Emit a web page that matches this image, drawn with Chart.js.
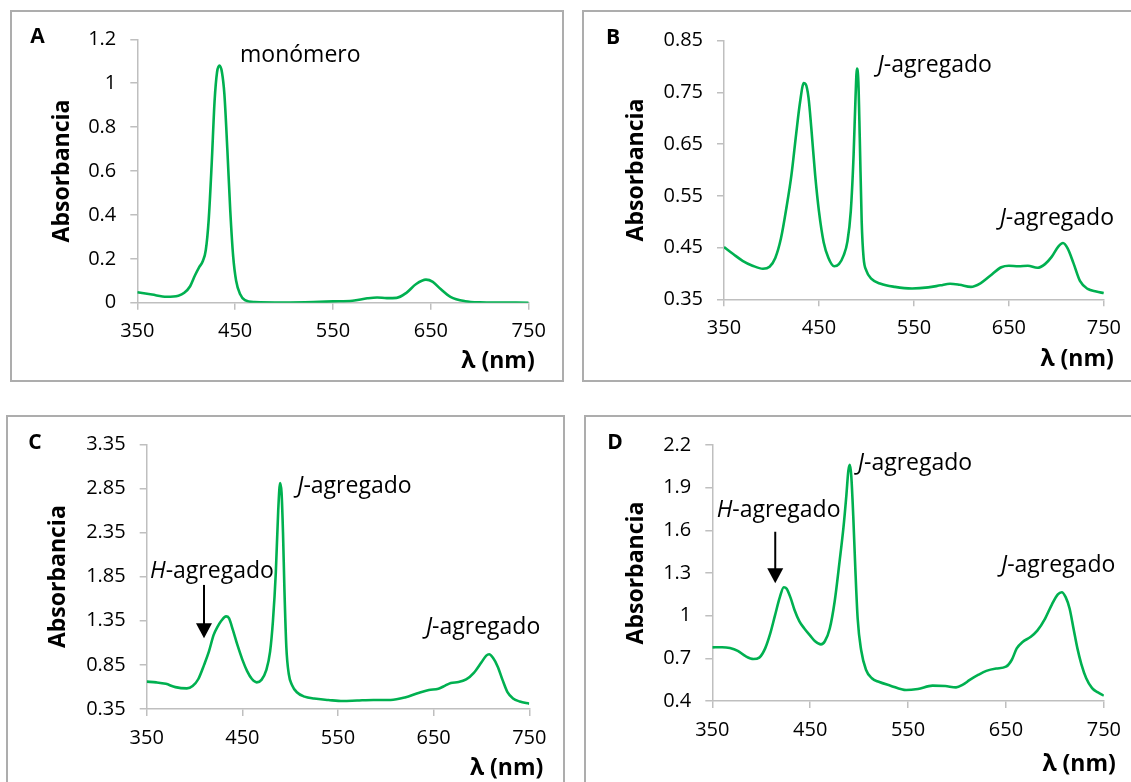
<!DOCTYPE html>
<html>
<head>
<meta charset="utf-8">
<script src="https://cdn.jsdelivr.net/npm/chart.js@4/dist/chart.umd.min.js"></script>
<style>
  body { margin: 0; width: 1131px; height: 782px; overflow: hidden; background: #fff; position: relative; }
  .frame { position: absolute; border: 2px solid #adadad; box-sizing: border-box; }
  canvas { position: absolute; }
</style>
</head>
<body>
<div class="frame" style="left:10px;top:10px;width:554px;height:372px"></div>
<div class="frame" style="left:582px;top:10px;width:600px;height:372px"></div>
<div class="frame" style="left:6px;top:415px;width:559px;height:400px"></div>
<div class="frame" style="left:584px;top:415px;width:600px;height:400px"></div>
<canvas id="cA" width="548" height="366" style="left:13px;top:13px"></canvas>
<canvas id="cB" width="546" height="366" style="left:585px;top:13px"></canvas>
<canvas id="cC" width="553" height="364" style="left:9px;top:418px"></canvas>
<canvas id="cD" width="544" height="364" style="left:587px;top:418px"></canvas>
<script>
// wavelength ticks shared by all panels
const xTicks = [350, 450, 550, 650, 750];

// A - monómero
const nmA  = [350, 365, 380, 392, 398, 404, 409, 413, 417, 420, 423, 426, 429, 431.5, 434, 436.5, 439, 442, 445, 448, 451, 455, 460, 470, 500, 530, 550, 570, 585, 595, 605, 615, 625, 635, 645, 652, 660, 670, 685, 700, 750];
const absA = [0.048, 0.037, 0.027, 0.032, 0.045, 0.075, 0.125, 0.16, 0.19, 0.24, 0.38, 0.63, 0.92, 1.05, 1.08, 1.05, 0.95, 0.70, 0.42, 0.21, 0.10, 0.04, 0.012, 0.003, 0.001, 0.003, 0.006, 0.009, 0.02, 0.024, 0.021, 0.022, 0.045, 0.085, 0.105, 0.095, 0.062, 0.027, 0.007, 0.002, 0.0];
const yTicksA = [0, 0.2, 0.4, 0.6, 0.8, 1, 1.2];

// B
const nmB  = [350, 360, 370, 380, 391, 398, 404, 410, 416, 421, 426, 430, 434, 436, 439, 442, 446, 450, 455, 460, 466, 471, 476, 480, 483.5, 486.5, 488.5, 490, 491.5, 493, 495, 497, 500, 505, 515, 530, 548, 565, 578, 588, 598, 610, 620, 630, 642, 650, 660, 670, 680, 688, 695, 702, 707, 712, 718, 725, 733, 742, 750];
const absB = [0.451, 0.437, 0.424, 0.415, 0.409, 0.413, 0.43, 0.468, 0.53, 0.59, 0.67, 0.73, 0.768, 0.766, 0.74, 0.68, 0.59, 0.52, 0.46, 0.43, 0.414, 0.418, 0.435, 0.462, 0.52, 0.63, 0.74, 0.796, 0.77, 0.66, 0.50, 0.43, 0.405, 0.39, 0.38, 0.374, 0.371, 0.373, 0.377, 0.380, 0.378, 0.374, 0.381, 0.395, 0.412, 0.415, 0.414, 0.415, 0.411, 0.418, 0.432, 0.452, 0.459, 0.448, 0.42, 0.385, 0.370, 0.365, 0.362];
const yTicksB = [0.35, 0.45, 0.55, 0.65, 0.75, 0.85];

// C
const nmC  = [350, 360, 370, 380, 392, 398, 404, 410, 415, 420, 424, 428, 433, 436, 440, 445, 450, 455, 460, 465, 470, 475, 479, 482, 485, 487.5, 489.5, 491, 492.5, 494, 496, 498.5, 502, 507, 515, 525, 540, 555, 570, 587, 605, 620, 635, 645, 655, 662, 668, 676, 684, 692, 700, 705, 708, 712, 717, 722, 727, 733, 740, 750];
const absC = [0.66, 0.652, 0.635, 0.598, 0.584, 0.61, 0.69, 0.85, 1.0, 1.19, 1.28, 1.35, 1.40, 1.38, 1.25, 1.07, 0.91, 0.78, 0.69, 0.652, 0.68, 0.79, 1.0, 1.35, 1.9, 2.6, 2.91, 2.8, 2.35, 1.7, 1.05, 0.75, 0.62, 0.54, 0.49, 0.468, 0.452, 0.44, 0.446, 0.452, 0.452, 0.48, 0.535, 0.565, 0.58, 0.615, 0.645, 0.655, 0.685, 0.76, 0.88, 0.955, 0.97, 0.93, 0.83, 0.68, 0.545, 0.47, 0.435, 0.41];
const yTicksC = [0.35, 0.85, 1.35, 1.85, 2.35, 2.85, 3.35];

// D
const nmD  = [350, 360, 368, 376, 384, 392, 398, 404, 409, 414, 419, 423, 426, 430, 434, 439, 444, 450, 455, 461, 465, 470, 475, 480, 484, 487, 489, 490.5, 492, 494, 496, 498.5, 502, 507, 513, 520, 532, 548, 560, 575, 588, 599, 606, 613, 622, 630, 640, 650, 656, 661, 667, 675, 682, 690, 697, 703, 707, 711, 715, 719, 723, 727, 732, 738, 744, 750];
const absD = [0.777, 0.778, 0.772, 0.752, 0.715, 0.695, 0.705, 0.77, 0.87, 1.0, 1.13, 1.2, 1.19, 1.125, 1.04, 0.96, 0.91, 0.86, 0.82, 0.798, 0.82, 0.91, 1.1, 1.38, 1.62, 1.85, 2.02, 2.06, 1.98, 1.7, 1.35, 0.98, 0.76, 0.62, 0.56, 0.535, 0.508, 0.477, 0.485, 0.508, 0.505, 0.496, 0.515, 0.548, 0.585, 0.612, 0.628, 0.641, 0.69, 0.77, 0.815, 0.85, 0.895, 0.98, 1.08, 1.15, 1.165, 1.13, 1.05, 0.91, 0.77, 0.66, 0.56, 0.49, 0.46, 0.4375];
const yTicksD = [0.4, 0.7, 1, 1.3, 1.6, 1.9, 2.2];

const FONT = '"Open Sans"';
const AXIS = '#bfbfbf';

// letters, axis titles, labels and arrows
const decor = {
  id: 'decor',
  afterDraw(chart, args, o) {
    const { ctx, chartArea: a, scales: { x, y } } = chart;
    ctx.save();
    ctx.fillStyle = '#000';
    ctx.textBaseline = 'middle';
    ctx.textAlign = 'center';
    ctx.font = `bold 21px ${FONT}`;
    ctx.fillText(o.letter, o.lx, o.ly);

    ctx.font = `bold 23px ${FONT}`;
    ctx.textAlign = 'right';
    ctx.fillText('λ (nm)', a.right + o.xt[0], a.bottom + o.xt[1]);

    ctx.save();
    ctx.translate(a.left - o.yt, (a.top + a.bottom) / 2);
    ctx.rotate(-Math.PI / 2);
    ctx.textAlign = 'center';
    ctx.fillText('Absorbancia', 0, 0);
    ctx.restore();

    ctx.textAlign = 'left';
    ctx.textBaseline = 'alphabetic';
    for (const n of o.notes) {
      let px = x.getPixelForValue(n.x);
      const py = y.getPixelForValue(n.y);
      if (n.it) {
        ctx.font = `italic 23px ${FONT}`;
        ctx.fillText(n.it, px, py);
        px += ctx.measureText(n.it).width;
      }
      ctx.font = `23px ${FONT}`;
      ctx.fillText(n.text, px, py);
    }

    if (o.arrow) {
      const ax = x.getPixelForValue(o.arrow.x);
      const y0 = y.getPixelForValue(o.arrow.from);
      const y1 = y.getPixelForValue(o.arrow.to);
      ctx.strokeStyle = '#000';
      ctx.lineWidth = 2;
      ctx.beginPath();
      ctx.moveTo(ax, y0);
      ctx.lineTo(ax, y1 - 14);
      ctx.stroke();
      ctx.beginPath();
      ctx.moveTo(ax - 8, y1 - 15);
      ctx.lineTo(ax + 8, y1 - 15);
      ctx.lineTo(ax, y1);
      ctx.closePath();
      ctx.fill();
    }
    ctx.restore();
  }
};

function axisOpts(ticks, pad, fitFn) {
  return {
    type: 'linear',
    min: ticks[0],
    max: ticks[ticks.length - 1],
    afterBuildTicks: (s) => { s.ticks = ticks.map((v) => ({ value: v })); },
    afterFit: fitFn,
    grid: { drawOnChartArea: false, drawTicks: true, tickLength: 7, color: AXIS, lineWidth: 1.5 },
    border: { display: true, color: AXIS, width: 1.5 },
    ticks: {
      color: '#000',
      font: { family: 'Open Sans', size: 20 },
      padding: pad,
      autoSkip: false,
      maxRotation: 0,
      callback: (v) => String(+Number(v).toFixed(2)),
    },
  };
}

function panel(id, nm, abs, yTicks, L, deco) {
  new Chart(document.getElementById(id), {
    type: 'line',
    data: {
      datasets: [{
        data: nm.map((v, i) => ({ x: v, y: abs[i] })),
        borderColor: '#00b050',
        borderWidth: 2.6,
        pointRadius: 0,
        cubicInterpolationMode: 'monotone',
        fill: false,
      }],
    },
    options: {
      responsive: false,
      animation: false,
      events: [],
      layout: { padding: { top: L.top, right: L.right, left: 0, bottom: 0 } },
      plugins: { legend: { display: false }, tooltip: { enabled: false }, decor: deco },
      scales: {
        x: axisOpts(xTicks, 10, (s) => { s.height = L.xh; }),
        y: axisOpts(yTicks, 14, (s) => { s.width = L.yw; }),
      },
    },
    plugins: [decor],
  });
}

panel('cA', nmA, absA, yTicksA,
  { top: 26.3, right: 32.3, xh: 76.3, yw: 124.3 },
  { letter: 'A', lx: 24.5, ly: 24, xt: [6, 59], yt: 75,
    notes: [{ text: 'monómero', x: 455, y: 1.095 }] });

panel('cB', nmB, absB, yTicksB,
  { top: 27.7, right: 26.7, xh: 79.7, yw: 139 },
  { letter: 'B', lx: 28, ly: 25, xt: [10, 60], yt: 88,
    notes: [{ it: 'J', text: '-agregado', x: 511.7, y: 0.7895 },
            { it: 'J', text: '-agregado', x: 640.3, y: 0.4937 }] });

panel('cC', nmC, absC, yTicksC,
  { top: 26.3, right: 32.7, xh: 73, yw: 137.7 },
  { letter: 'C', lx: 26, ly: 25, xt: [14, 59], yt: 88,
    notes: [{ it: 'H', text: '-agregado', x: 353.5, y: 1.832 },
            { it: 'J', text: '-agregado', x: 507.4, y: 2.795 },
            { it: 'J', text: '-agregado', x: 641.9, y: 1.197 }],
    arrow: { x: 409.9, from: 1.756, to: 1.152 } });

panel('cD', nmD, absD, yTicksD,
  { top: 27, right: 24, xh: 81, yw: 125.3 },
  { letter: 'D', lx: 28, ly: 25, xt: [12, 63], yt: 76,
    notes: [{ it: 'H', text: '-agregado', x: 354.5, y: 1.696 },
            { it: 'J', text: '-agregado', x: 498.7, y: 2.024 },
            { it: 'J', text: '-agregado', x: 644.9, y: 1.305 }],
    arrow: { x: 414.3, from: 1.59, to: 1.228 } });
</script>
</body>
</html>
